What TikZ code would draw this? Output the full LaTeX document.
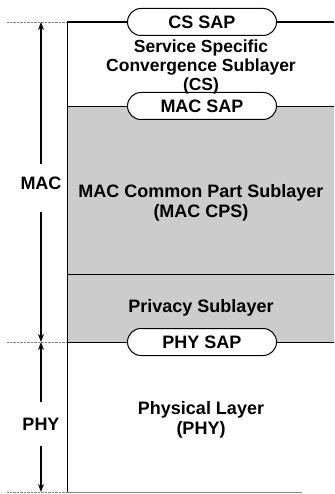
\documentclass[tikz,border=0pt]{standalone}
\usepackage{fontspec}
\setmainfont{Liberation Sans}
\usetikzlibrary{shapes.misc,arrows.meta,positioning}

\begin{document}
\begin{tikzpicture}[x=1pt, y=-1pt, >={Stealth[length=8pt, width=6pt]},
  font=\fontsize{18}{20.5}\selectfont\bfseries,
  sap/.style={draw, line width=1pt, fill=white, rounded rectangle, minimum width=149pt, minimum height=27pt, inner sep=0pt},
  layer/.style={align=center, inner sep=0pt},
  side/.style={inner xsep=0pt, inner ysep=12pt},
  rule/.style={line width=1pt},
  extent/.style={->, line width=1.2pt},
  guide/.style={densely dotted, gray}]
\useasboundingbox (0,0) rectangle (334,494);
% shaded MAC part
\fill[black!20] (67,106) rectangle (334,342);
% layer boundaries
\draw[guide] (7,22) -- (67,22);
\draw[guide] (7,342) -- (67,342);
\draw[guide] (7,492) -- (67,492);
\draw[line width=1.4pt] (67,22) -- (334,22);
\draw[rule] (67,22) -- (67,492);
\draw[thin] (67,106) -- (334,106);
\draw[rule] (67,274) -- (334,274);
\draw[rule] (67,342) -- (334,342);
\draw[thin, gray] (67,492) -- (302,492);
% service access points
\node[sap] (cssap) at (202,22) {CS SAP};
\node[sap] (macsap) at (202,106) {MAC SAP};
\node[sap] (physap) at (202,342) {PHY SAP};
% layers
\node[layer, font=\fontsize{17.5}{19}\selectfont\bfseries] (cs) at (201,67) {Service Specific\\Convergence Sublayer\\(CS)};
\node[layer] (cps) at (201,203) {MAC Common Part Sublayer\\(MAC CPS)};
\node[layer] (priv) at (201,308) {Privacy Sublayer};
\node[layer] (phy) at (201,420) {Physical Layer\\(PHY)};
% extents on the left
\coordinate (mactop) at (41,22);
\coordinate (macbot) at (41,342);
\coordinate (phybot) at (41,492);
\node[side] (mac) at (41,183) {MAC};
\node[side, inner ysep=16pt] (physide) at (41,424) {PHY};
\draw[extent] (mac) -- (mactop);
\draw[extent] ([yshift=-10pt]mac.south) -- (macbot);
\draw[extent] (physide) -- (macbot);
\draw[extent] (physide) -- (phybot);
\end{tikzpicture}
\end{document}
